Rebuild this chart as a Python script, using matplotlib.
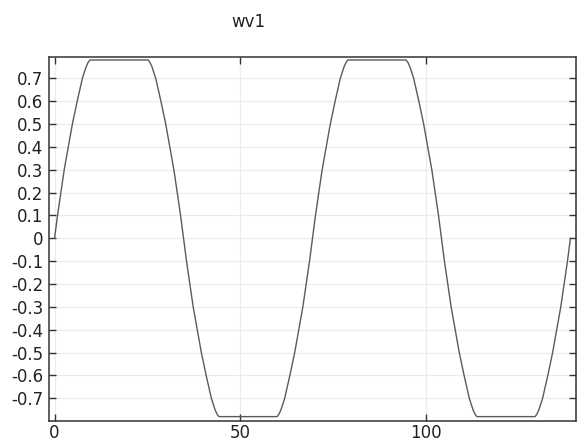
import matplotlib
matplotlib.use("Agg")
import matplotlib.pyplot as plt

title = "wv1"

x_vals = [0, 0.8, 1.7, 2.6, 3.7, 4.8, 6.1, 7.5, 8.5, 9.0, 9.5,
          25.25, 25.75, 26.25, 27.25, 28.65, 29.95, 31.05, 32.15, 33.05, 33.95, 34.75,
          35.55, 36.45, 37.35, 38.45, 39.55, 40.85, 42.25, 43.25, 43.75, 44.25,
          60.0, 60.5, 61.0, 62.0, 63.4, 64.7, 65.8, 66.9, 67.8, 68.7, 69.5,
          70.3, 71.2, 72.1, 73.2, 74.3, 75.6, 77.0, 78.0, 78.5, 79.0,
          94.75, 95.25, 95.75, 96.75, 98.15, 99.45, 100.55, 101.65, 102.55, 103.45, 104.25,
          105.05, 105.95, 106.85, 107.95, 109.05, 110.35, 111.75, 112.75, 113.25, 113.75,
          129.5, 130.0, 130.5, 131.5, 132.9, 134.2, 135.3, 136.4, 137.3, 138.2, 139.0]

y_vals = [0, 0.1, 0.2, 0.3, 0.4, 0.5, 0.6, 0.7, 0.75, 0.768, 0.78,
          0.78, 0.768, 0.75, 0.7, 0.6, 0.5, 0.4, 0.3, 0.2, 0.1, 0,
          -0.1, -0.2, -0.3, -0.4, -0.5, -0.6, -0.7, -0.75, -0.768, -0.78,
          -0.78, -0.768, -0.75, -0.7, -0.6, -0.5, -0.4, -0.3, -0.2, -0.1, 0,
          0.1, 0.2, 0.3, 0.4, 0.5, 0.6, 0.7, 0.75, 0.768, 0.78,
          0.78, 0.768, 0.75, 0.7, 0.6, 0.5, 0.4, 0.3, 0.2, 0.1, 0,
          -0.1, -0.2, -0.3, -0.4, -0.5, -0.6, -0.7, -0.75, -0.768, -0.78,
          -0.78, -0.768, -0.75, -0.7, -0.6, -0.5, -0.4, -0.3, -0.2, -0.1, 0]

x_ticks = [0, 50, 100]
x_tick_labels = ["0", "50", "100"]
y_ticks = [0.7, 0.6, 0.5, 0.4, 0.3, 0.2, 0.1, 0, -0.1, -0.2, -0.3, -0.4, -0.5, -0.6, -0.7]
y_tick_labels = ["0.7", "0.6", "0.5", "0.4", "0.3", "0.2", "0.1", "0",
                 "-0.1", "-0.2", "-0.3", "-0.4", "-0.5", "-0.6", "-0.7"]

W, H = 577, 443
fig = plt.figure(figsize=(W / 100, H / 100), dpi=100)
left, right, top, bottom = 49, 576, 57, 420.5
ax = fig.add_axes([left / W, 1 - bottom / H, (right - left) / W, (bottom - top) / H])

ax.plot(x_vals, y_vals, color="#5a5a5a", linewidth=1.0)
ax.set_xlim(-1.5, 140.5)
ax.set_ylim(-0.797, 0.793)

ax.set_xticks(x_ticks)
ax.set_xticklabels(x_tick_labels)
ax.set_yticks(y_ticks)
ax.set_yticklabels(y_tick_labels)

ax.grid(True, color="#ebebeb", linewidth=0.8)
ax.set_axisbelow(True)
ax.tick_params(direction="in", length=5, width=1, color="#333333",
               top=True, right=True, labelsize=12, labelcolor="#222222")
ax.tick_params(axis="y", pad=4)
ax.tick_params(axis="x", pad=2.5)
for s in ax.spines.values():
    s.set_color("#333333")
    s.set_linewidth(1.1)

fig.text(248 / W, 1 - 22 / H, title, ha="center", va="center", fontsize=12, color="#222222")

fig.savefig("out.png", dpi=100)
